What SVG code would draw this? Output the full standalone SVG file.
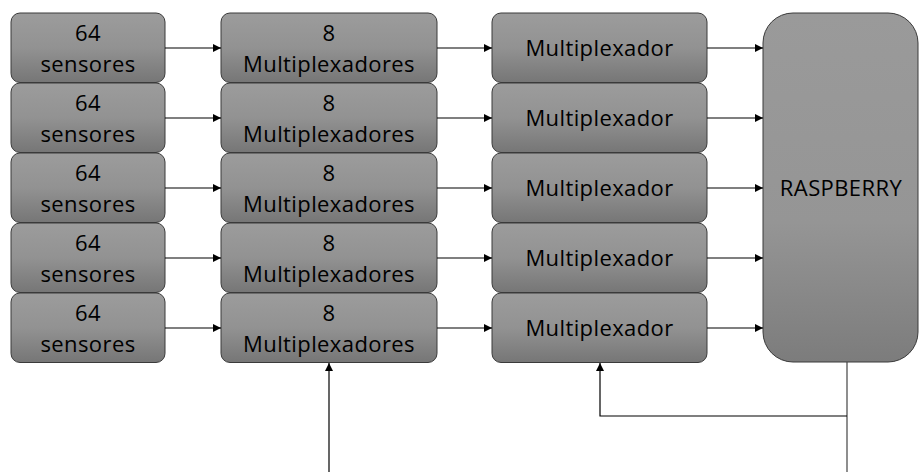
<svg xmlns="http://www.w3.org/2000/svg" width="920" height="472" viewBox="0 0 920 472">
  <style>
    .box { stroke: #3a3a3a; stroke-width: 1; fill: url(#g); }
    .t { font-family: "Open Sans", "Noto Sans", sans-serif; font-size: 22px; letter-spacing: 0.4px; fill: #000; text-anchor: middle; }
    .c { stroke: #000; stroke-width: 1.2; fill: none; marker-end: url(#ah); }
    .w { stroke: #444; stroke-width: 1.2; fill: none; }
  </style>
  <defs>
    <linearGradient id="g" x1="0" y1="0" x2="0" y2="1">
      <stop offset="0" stop-color="#9c9c9c"/>
      <stop offset="0.5" stop-color="#929292"/>
      <stop offset="1" stop-color="#767676"/>
    </linearGradient>
    <linearGradient id="gr" x1="0" y1="0" x2="0" y2="1">
      <stop offset="0" stop-color="#9a9a9a"/>
      <stop offset="0.6" stop-color="#959595"/>
      <stop offset="1" stop-color="#7c7c7c"/>
    </linearGradient>
    <marker id="ah" viewBox="0 0 10 10" refX="10" refY="5" markerWidth="8" markerHeight="8" markerUnits="userSpaceOnUse" orient="auto">
      <path d="M0 0 L10 5 L0 10 Z" fill="#000"/>
    </marker>
  </defs>

  <!-- sensor blocks -->
  <g id="sensores1"><rect class="box" x="11" y="13" width="154" height="69.5" rx="9"/><text class="t" x="88" y="41">64</text><text class="t" x="88" y="72">sensores</text></g>
  <g id="sensores2"><rect class="box" x="11" y="83" width="154" height="69.5" rx="9"/><text class="t" x="88" y="111">64</text><text class="t" x="88" y="142">sensores</text></g>
  <g id="sensores3"><rect class="box" x="11" y="153" width="154" height="69.5" rx="9"/><text class="t" x="88" y="181">64</text><text class="t" x="88" y="212">sensores</text></g>
  <g id="sensores4"><rect class="box" x="11" y="223" width="154" height="69.5" rx="9"/><text class="t" x="88" y="251">64</text><text class="t" x="88" y="282">sensores</text></g>
  <g id="sensores5"><rect class="box" x="11" y="293" width="154" height="69.5" rx="9"/><text class="t" x="88" y="321">64</text><text class="t" x="88" y="352">sensores</text></g>

  <!-- first multiplexer stage -->
  <g id="mux8_1"><rect class="box" x="221" y="13" width="216" height="69.5" rx="9"/><text class="t" x="329" y="41">8</text><text class="t" x="329" y="72">Multiplexadores</text></g>
  <g id="mux8_2"><rect class="box" x="221" y="83" width="216" height="69.5" rx="9"/><text class="t" x="329" y="111">8</text><text class="t" x="329" y="142">Multiplexadores</text></g>
  <g id="mux8_3"><rect class="box" x="221" y="153" width="216" height="69.5" rx="9"/><text class="t" x="329" y="181">8</text><text class="t" x="329" y="212">Multiplexadores</text></g>
  <g id="mux8_4"><rect class="box" x="221" y="223" width="216" height="69.5" rx="9"/><text class="t" x="329" y="251">8</text><text class="t" x="329" y="282">Multiplexadores</text></g>
  <g id="mux8_5"><rect class="box" x="221" y="293" width="216" height="69.5" rx="9"/><text class="t" x="329" y="321">8</text><text class="t" x="329" y="352">Multiplexadores</text></g>

  <!-- second multiplexer stage -->
  <g id="mux1"><rect class="box" x="492" y="13" width="215" height="69.5" rx="9"/><text class="t" x="599.5" y="56">Multiplexador</text></g>
  <g id="mux2"><rect class="box" x="492" y="83" width="215" height="69.5" rx="9"/><text class="t" x="599.5" y="126">Multiplexador</text></g>
  <g id="mux3"><rect class="box" x="492" y="153" width="215" height="69.5" rx="9"/><text class="t" x="599.5" y="196">Multiplexador</text></g>
  <g id="mux4"><rect class="box" x="492" y="223" width="215" height="69.5" rx="9"/><text class="t" x="599.5" y="266">Multiplexador</text></g>
  <g id="mux5"><rect class="box" x="492" y="293" width="215" height="69.5" rx="9"/><text class="t" x="599.5" y="336">Multiplexador</text></g>

  <!-- controller -->
  <g id="raspberry"><rect x="763" y="13" width="155" height="349" rx="30" fill="url(#gr)" stroke="#3a3a3a" stroke-width="1"/><text class="t" x="841" y="196">RASPBERRY</text></g>

  <!-- connectors -->
  <g id="connectors">
    <path class="c" d="M165 48 H221"/>
    <path class="c" d="M165 118 H221"/>
    <path class="c" d="M165 188 H221"/>
    <path class="c" d="M165 258 H221"/>
    <path class="c" d="M165 328 H221"/>
    <path class="c" d="M437 48 H492"/>
    <path class="c" d="M437 118 H492"/>
    <path class="c" d="M437 188 H492"/>
    <path class="c" d="M437 258 H492"/>
    <path class="c" d="M437 328 H492"/>
    <path class="c" d="M707 48 H763"/>
    <path class="c" d="M707 118 H763"/>
    <path class="c" d="M707 188 H763"/>
    <path class="c" d="M707 258 H763"/>
    <path class="c" d="M707 328 H763"/>
    <path class="c" d="M329 472 V363"/>
    <path class="w" d="M847 362 V472"/>
    <path class="c" d="M847 416 H600 V363"/>
  </g>
</svg>
